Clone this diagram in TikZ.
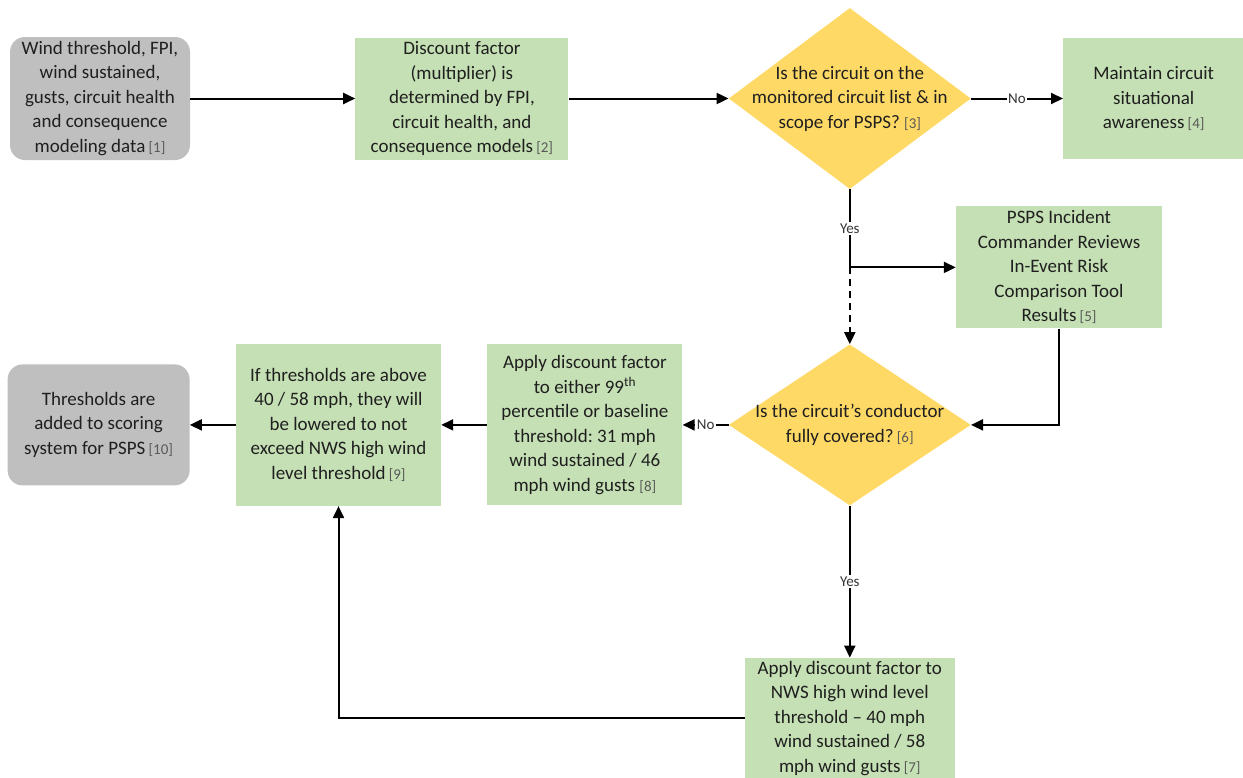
\documentclass[tikz,border=0pt]{standalone}
\usepackage{fontspec}
\setmainfont{Carlito}
\frenchspacing
\usetikzlibrary{shapes.geometric,arrows.meta,positioning}
\definecolor{cGray}{HTML}{BFBFBF}
\definecolor{cGreen}{HTML}{C5E0B4}
\definecolor{cGold}{HTML}{FFD966}
\definecolor{cInk}{HTML}{1F1F1F}
\definecolor{cRef}{HTML}{595959}
\newcommand{\refno}[1]{{\fontsize{15}{15}\selectfont\color{cRef}[#1]}}
\tikzset{
  txt/.style    = {font=\fontsize{19}{24.5}\selectfont, text=cInk, align=center},
  proc/.style   = {rectangle, fill=cGreen, txt, inner sep=2pt},
  term/.style   = {rectangle, rounded corners=15pt, fill=cGray, txt, inner sep=2pt},
  dec/.style    = {diamond, fill=cGold, inner sep=0pt, minimum width=242pt},
  dectxt/.style = {txt, inner sep=0pt},
  fl/.style     = {-{Triangle[length=12pt,width=11pt]}, draw=black, line width=2pt},
  lab/.style    = {font=\fontsize{15}{15}\selectfont, text=cInk!90, fill=white, inner sep=1.5pt},
}
\begin{document}
\begin{tikzpicture}[node distance=46pt]
  \useasboundingbox (0,0) rectangle (1243pt,-777pt);
  \node[term, minimum width=180pt, minimum height=123pt] (input) at (100pt,-98.5pt)
    {Wind threshold, FPI,\\ wind sustained,\\ gusts, circuit health\\ and consequence\\ modeling data\,\refno{1}};
  \node[proc, minimum width=213pt, minimum height=122pt, right=165pt of input] (discount)
    {Discount factor\\ (multiplier) is\\ determined by FPI,\\ circuit health, and\\ consequence models\,\refno{2}};
  \node[dec, minimum height=181pt, right=160pt of discount,
        label={[dectxt]center:Is the circuit on the\\ monitored circuit list \& in\\ scope for PSPS? \refno{3}}] (inscope) {};
  \node[proc, minimum width=181pt, minimum height=121pt, right=92pt of inscope] (aware)
    {Maintain circuit\\ situational\\ awareness\,\refno{4}};
  \node[proc, minimum width=206pt, minimum height=122pt, below right=17pt and 106pt of inscope.south] (review)
    {PSPS Incident\\ Commander Reviews\\ In-Event Risk\\ Comparison Tool\\ Results\,\refno{5}};
  \node[dec, minimum height=161pt, below=155pt of inscope,
        label={[dectxt]center:Is the circuit’s conductor\\ fully covered?\,\refno{6}}] (covered) {};
  \node[proc, minimum width=195pt, minimum height=161pt, left=of covered] (apply99)
    {Apply discount factor\\ to either 99\textsuperscript{th}\\ percentile or baseline\\ threshold: 31 mph\\ wind sustained / 46\\ mph wind gusts \refno{8}};
  \node[proc, minimum width=205pt, minimum height=162pt, left=of apply99] (lower)
    {If thresholds are above\\ 40 / 58 mph, they will\\ be lowered to not\\ exceed NWS high wind\\ level threshold\,\refno{9}};
  \node[term, minimum width=182pt, minimum height=121pt, left=of lower] (scoring)
    {Thresholds are\\ added to scoring\\ system for PSPS\,\refno{10}};
  \node[proc, minimum width=210pt, minimum height=121pt, below=152pt of covered] (applynws)
    {Apply discount factor to\\ NWS high wind level\\ threshold -- 40 mph\\ wind sustained / 58\\ mph wind gusts\,\refno{7}};

  \coordinate (split) at (inscope.south |- review.west);

  \draw[fl] (input.east) -- (discount.west);
  \draw[fl] (discount.east) -- (inscope.west);
  \draw[fl] (inscope.east) -- node[lab] {No} (aware.west);
  \draw[fl] (inscope.south) -- node[lab] {Yes} (split) -- (review.west);
  \draw[fl, dash pattern=on 7pt off 5pt] (split) -- (covered.north);
  \draw[fl] (review.south) |- (covered.east);
  \draw[fl] (covered.west) -- node[lab] {No} (apply99.east);
  \draw[fl] (apply99.west) -- (lower.east);
  \draw[fl] (lower.west) -- (scoring.east);
  \draw[fl] (covered.south) -- node[lab] {Yes} (applynws.north);
  \draw[fl] (applynws.west) -| (lower.south);
\end{tikzpicture}
\end{document}
